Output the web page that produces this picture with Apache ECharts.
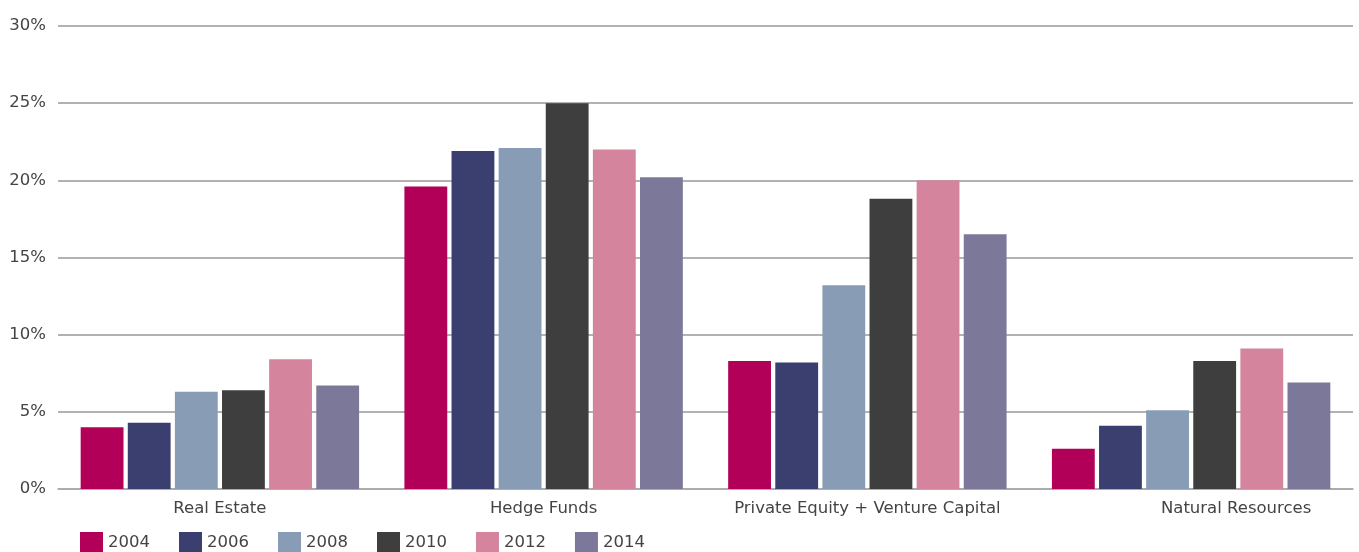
<!DOCTYPE html>
<html><head><meta charset="utf-8">
<script src="https://cdn.jsdelivr.net/npm/echarts@6/dist/echarts.min.js"></script>
<style>html,body{margin:0;padding:0;background:#fff}#c{width:1359px;height:552px}</style>
</head><body><div id="c"></div>
<script>
const categories = ['Real Estate', 'Hedge Funds', 'Private Equity + Venture Capital', 'Natural Resources'];
const years = ['2004', '2006', '2008', '2010', '2012', '2014'];
const v2004 = [4.0, 19.6, 8.3, 2.6];
const v2006 = [4.3, 21.9, 8.2, 4.1];
const v2008 = [6.3, 22.1, 13.2, 5.1];
const v2010 = [6.4, 25.0, 18.8, 8.3];
const v2012 = [8.4, 22.0, 20.0, 9.1];
const v2014 = [6.7, 20.2, 16.5, 6.9];
const colors = ['#B20058', '#3A3F70', '#889CB5', '#3E3E3E', '#D4849D', '#7C7899'];
const seriesData = [v2004, v2006, v2008, v2010, v2012, v2014];
const font = '"DejaVu Sans", sans-serif';
const chart = echarts.init(document.getElementById('c'));
chart.setOption({
  animation: false,
  textStyle: { fontFamily: font },
  grid: { left: 58, right: 6, top: 26, bottom: 63 },
  legend: {
    left: 80, top: 532, padding: 0, itemWidth: 23, itemHeight: 22, itemGap: 29, icon: 'rect',
    textStyle: { fontSize: 16.5, color: '#444', fontFamily: font }
  },
  xAxis: {
    type: 'category', data: categories,
    axisTick: { show: false },
    axisLine: { lineStyle: { color: '#aaa', width: 1.5 } },
    axisLabel: {
      interval: 0,
      fontSize: 16.5, color: '#444', margin: 11, fontFamily: font,
      formatter: v => v === 'Natural Resources' ? '{nr|' + v + '}' : v,
      rich: { nr: { fontSize: 16.5, color: '#444', fontFamily: font, padding: [0, 0, 0, 90] } }
    }
  },
  yAxis: {
    type: 'value', min: 0, max: 30, interval: 5,
    axisLabel: { formatter: '{value}%', fontSize: 16.5, color: '#444', margin: 12, fontFamily: font },
    splitLine: { lineStyle: { color: '#999', width: 1.5 } },
    axisLine: { show: false }, axisTick: { show: false }
  },
  series: years.map((y, i) => ({
    name: y, type: 'bar', data: seriesData[i],
    itemStyle: { color: colors[i] },
    barGap: '10%', barCategoryGap: '14%'
  }))
});
</script></body></html>
